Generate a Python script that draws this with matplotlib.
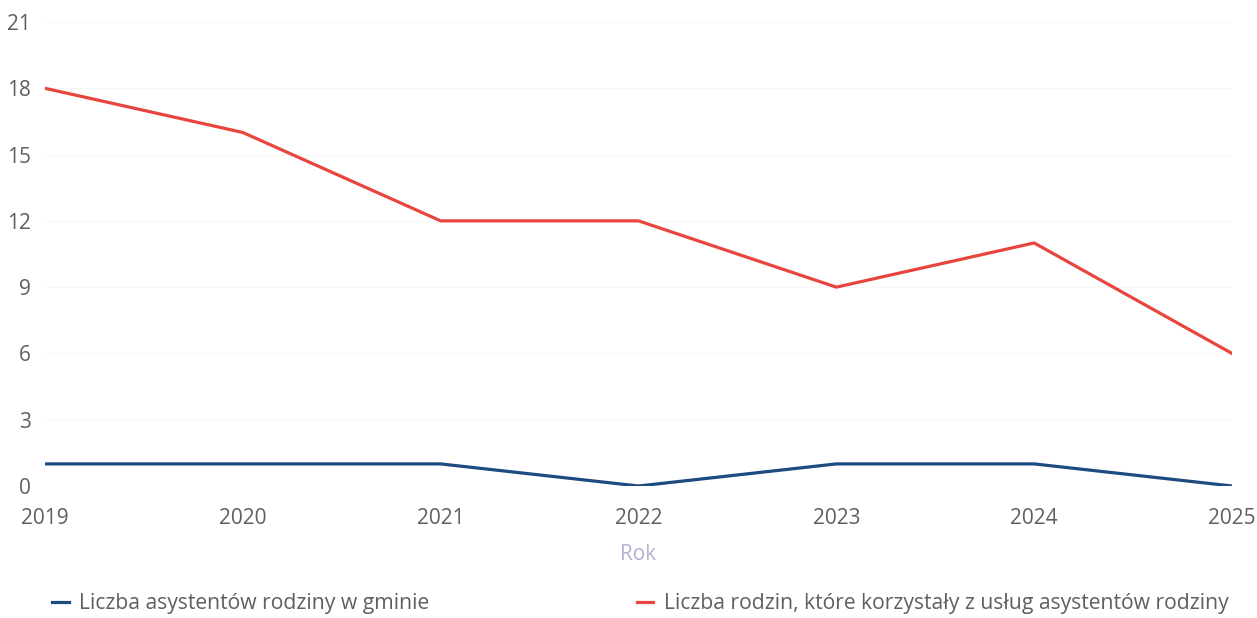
import matplotlib
matplotlib.use("Agg")
import matplotlib.pyplot as plt

plt.rcParams["font.family"] = ["Open Sans", "DejaVu Sans"]

# data
years = [2019, 2020, 2021, 2022, 2023, 2024, 2025]
asystenci = [1, 1, 1, 0, 1, 1, 0]
rodziny = [18, 16, 12, 12, 9, 11, 6]
yticks = [0, 3, 6, 9, 12, 15, 18, 21]

label_asyst = "Liczba asystentów rodziny w gminie"
label_rodz = "Liczba rodzin, które korzystały z usług asystentów rodziny"

RED = "#e8453f"
BLUE = "#1d4a80"
TXT = "#5f5f5f"

fig = plt.figure(figsize=(12.57, 6.18), dpi=100)
ax = fig.add_axes([45 / 1257, 1 - 486 / 618, (1232 - 45) / 1257, (486 - 22) / 618])

h_r, = ax.plot(years, rodziny, color=RED, lw=2.3, solid_joinstyle="round")
h_b, = ax.plot(years, asystenci, color=BLUE, lw=2.3, solid_joinstyle="round")

ax.set_xlim(2019, 2025)
ax.set_ylim(0, 21)
ax.set_yticks(yticks)
ax.set_xticks(years)
ax.set_xticklabels([str(y) for y in years])

for s in ax.spines.values():
    s.set_visible(False)
ax.tick_params(axis="both", length=0, labelsize=15, colors=TXT)
ax.tick_params(axis="x", pad=16)
ax.tick_params(axis="y", pad=10)
ax.grid(axis="y", color="#f6f6f6", lw=0.8)
ax.set_axisbelow(True)

fig.text(638 / 1257, 1 - 555 / 618, "Rok", ha="center", va="center",
         fontsize=15, color="#b4b0d2")

fig.legend([h_b, h_r], [label_asyst, label_rodz], ncol=2, frameon=False,
           loc="center left", bbox_to_anchor=(33 / 1257, 1 - 604 / 618),
           fontsize=15.2, labelcolor=TXT, handlelength=0.8, handletextpad=0.5,
           columnspacing=9.8)

fig.savefig("out.png", dpi=100)
